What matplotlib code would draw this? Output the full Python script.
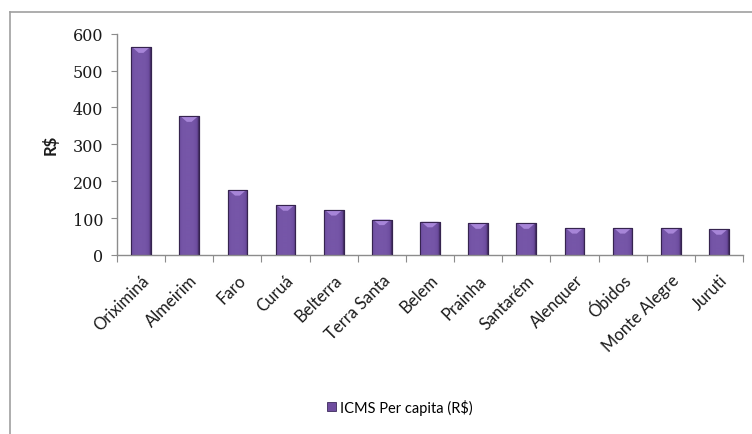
import matplotlib
matplotlib.use('Agg')
import matplotlib.pyplot as plt
import numpy as np
from matplotlib.patches import Rectangle, Polygon
from matplotlib.lines import Line2D

municipios = ['Oriximiná', 'Almeirim', 'Faro', 'Curuá', 'Belterra', 'Terra Santa',
              'Belem', 'Prainha', 'Santarém', 'Alenquer', 'Óbidos', 'Monte Alegre', 'Juruti']
icms_per_capita = [563, 376, 176, 135, 122, 96, 90, 86, 86, 73, 73, 73, 70]
yticks = [0, 100, 200, 300, 400, 500, 600]

fig = plt.figure(figsize=(7.52, 4.35), dpi=100)
fig.patch.set_facecolor('white')

# outer chart border (left and top only)
fig.add_artist(Line2D([10 / 752, 10 / 752], [1 - 13 / 435, 0], color='#a0a0a0', lw=1.2))
fig.add_artist(Line2D([10 / 752, 1], [1 - 13 / 435, 1 - 13 / 435], color='#a0a0a0', lw=1.2))

ax = fig.add_axes([117 / 752, 1 - 256 / 435, 626 / 752, 221.3 / 435])
x = np.arange(len(municipios))
width = 0.41

bars = ax.bar(x, icms_per_capita, width=width, color='#6f4d9f', edgecolor='#3d2a5c', lw=0.8, zorder=2)

# horizontal shading across each bar: dark rims, flat lighter body
g = np.linspace(0, 1, 80)
shade = np.clip(1 - (np.abs(g - 0.45) / 0.55) ** 4, 0, 1)
cmap = matplotlib.colors.LinearSegmentedColormap.from_list('p', ['#3a2659', '#6a4a9b', '#7656a8'])
for b in bars:
    x0, w, h = b.get_x(), b.get_width(), b.get_height()
    im = ax.imshow(shade[None, :], extent=(x0, x0 + w, 0, h), cmap=cmap, vmin=0, vmax=1,
                   aspect='auto', zorder=2.5)
    im.set_clip_path(b)
    cap = 15
    ax.add_patch(Polygon([(x0 + w * 0.06, h), (x0 + w * 0.94, h), (x0 + w * 0.62, h - cap),
                          (x0 + w * 0.38, h - cap)],
                         closed=True, fc='#a785d8', ec='none', zorder=3))
    ax.add_patch(Rectangle((x0, 0), w, h, fill=False, ec='#36244f', lw=0.8, zorder=3.5))

ax.set_xlim(-0.5, len(municipios) - 0.5)
ax.set_ylim(0, 600)
ax.set_yticks(yticks)
ax.set_yticklabels([str(t) for t in yticks], fontfamily='DejaVu Serif', fontsize=11.5, color='#1a1a1a')

# ticks sit between categories
ax.set_xticks(np.arange(len(municipios) + 1) - 0.5)
ax.set_xticklabels([])
ax.set_xticks(x, minor=True)
ax.set_xticklabels(municipios, minor=True, rotation=45, ha='right', va='top', rotation_mode='anchor',
                   fontfamily='Lato', fontsize=12, color='#1a1a1a')
ax.tick_params(axis='x', which='minor', length=0, pad=12)
ax.tick_params(axis='x', which='major', length=5, color='#8c8c8c', direction='out')
ax.tick_params(axis='y', length=4, color='#8c8c8c', direction='out', pad=6)

for s in ['top', 'right']:
    ax.spines[s].set_visible(False)
for s in ['left', 'bottom']:
    ax.spines[s].set_color('#8c8c8c')
    ax.spines[s].set_linewidth(1.0)

ax.set_ylabel('R$', fontfamily='Lato', fontweight='bold', fontsize=12, color='#1a1a1a', labelpad=10)

leg_handle = Rectangle((0, 0), 1, 1, fc='#6f4d9f', ec='#3d2a5c', lw=0.6)
fig.legend([leg_handle], ['ICMS Per capita (R$)'], loc='center', bbox_to_anchor=(400 / 752, 1 - 408 / 435),
           frameon=False, prop={'family': 'Lato', 'size': 10.5}, handlelength=0.6, handleheight=0.6,
           handletextpad=0.3)

fig.savefig('out.png', dpi=100, facecolor='white')
